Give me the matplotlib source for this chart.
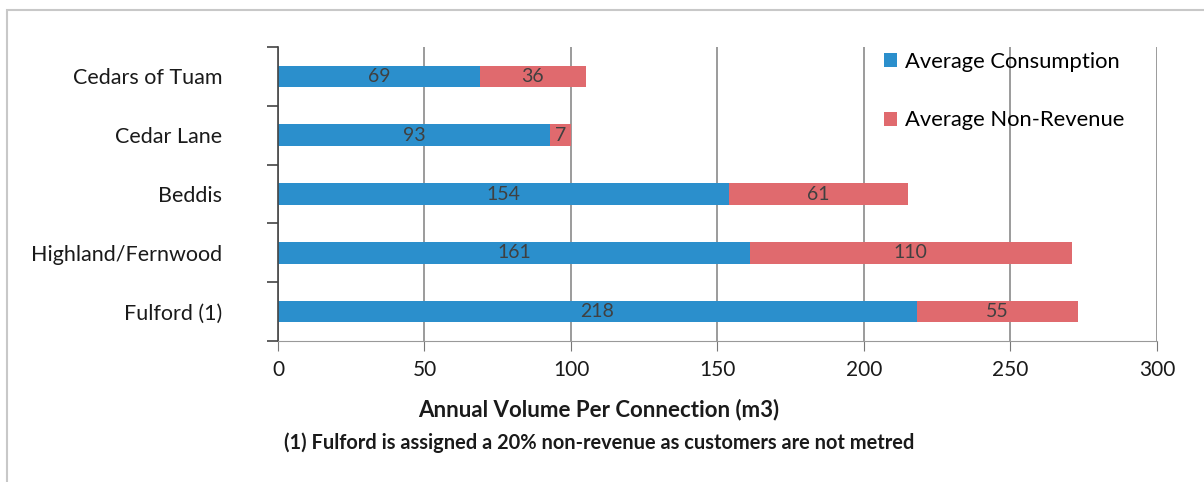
import matplotlib.pyplot as plt
from matplotlib.patches import Rectangle
import numpy as np

plt.rcParams['font.family'] = ['Lato', 'DejaVu Sans']

# data (top to bottom as in the chart)
areas = ['Cedars of Tuam', 'Cedar Lane', 'Beddis', 'Highland/Fernwood', 'Fulford (1)']
consumption = [69, 93, 154, 161, 218]
non_revenue = [36, 7, 61, 110, 55]

blue = '#2b8fcc'
red = '#e06a6e'

fig = plt.figure(figsize=(12.04, 4.82), dpi=100)
ax = fig.add_axes([0.2309, 0.2925, 0.7300, 0.6100])

y = np.arange(len(areas))
b1 = ax.barh(y, consumption, height=0.37, color=blue, label='Average Consumption')
b2 = ax.barh(y, non_revenue, left=consumption, height=0.37, color=red, label='Average Non-Revenue')
ax.bar_label(b1, label_type='center', color='#404040', fontsize=14)
ax.bar_label(b2, label_type='center', color='#404040', fontsize=14)

ax.set_xlim(0, 300)
ax.set_ylim(len(areas) - 0.5, -0.5)
ax.set_xticks(range(0, 301, 50))
ax.set_yticks(y)
ax.set_yticklabels(areas)
ax.set_yticks(np.arange(-0.5, len(areas), 1), minor=True)
ax.tick_params(axis='y', which='major', length=0, pad=40, labelsize=15.5, labelcolor='#1a1a1a')
ax.tick_params(axis='y', which='minor', length=8, width=1.2, color='#444444')
ax.tick_params(axis='x', length=7, color='#777777', labelsize=15, pad=7, labelcolor='#1a1a1a')

ax.grid(axis='x', color='#8a8a8a', linewidth=1.2)
ax.set_axisbelow(True)
for s in ['top', 'right']:
    ax.spines[s].set_visible(False)
ax.spines['left'].set_color('#444444')
ax.spines['left'].set_linewidth(1.2)
ax.spines['bottom'].set_color('#999999')

fig.text(0.4975, 1 - 410 / 482, 'Annual Volume Per Connection (m3)', ha='center', va='center',
         fontsize=16, fontweight='bold', color='#1a1a1a')
fig.text(0.4975, 1 - 443 / 482, '(1) Fulford is assigned a 20% non-revenue as customers are not metred',
         ha='center', va='center', fontsize=14.4, fontweight='bold', color='#1a1a1a')

ax.legend(loc='upper left', bbox_to_anchor=(0.667, 1.05), frameon=False, fontsize=15.8,
          handlelength=0.6, handleheight=0.6, handletextpad=0.35, labelspacing=1.75)

fig.patches.append(Rectangle((0.006, -0.1), 1.1, 1.079, transform=fig.transFigure,
                             fill=False, edgecolor='#c8c8c8', linewidth=1.5))

fig.savefig('out.png', dpi=100)
